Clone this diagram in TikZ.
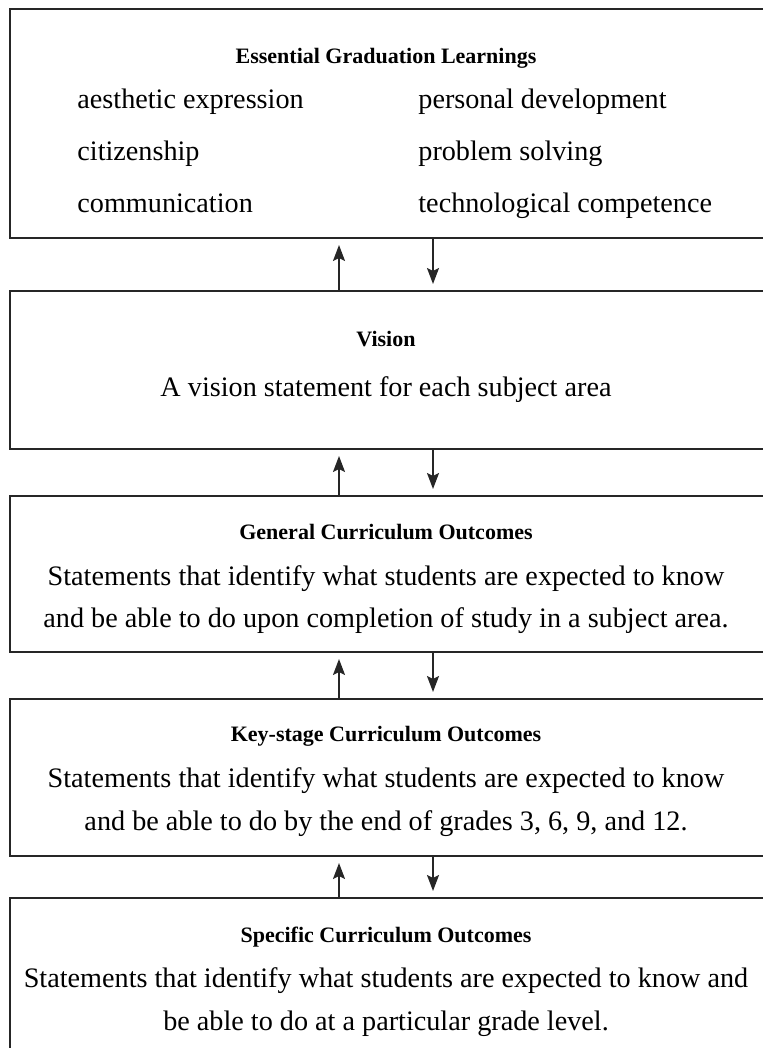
\documentclass[tikz,border=0pt]{standalone}
\usepackage{fontspec}
\setmainfont{Liberation Serif}
\usetikzlibrary{arrows.meta}

\begin{document}
\begin{tikzpicture}[x=0.5pt, y=-0.5pt]
    \tikzstyle{box} = [draw=black!85, line width=1pt, minimum width=382pt, inner sep=0pt]
    \tikzstyle{heading} = [anchor=base, font=\fontsize{11}{14}\selectfont\bfseries]
    \tikzstyle{body} = [anchor=base, font=\fontsize{14.1}{21.5}\selectfont]
    \tikzstyle{item} = [anchor=base west, inner xsep=0pt, font=\fontsize{14.1}{21.5}\selectfont]
    \tikzstyle{flow} = [-{Stealth[length=8pt, width=6pt, inset=1.5pt]}, line width=1pt, draw=black!85]
    \useasboundingbox (0,0) rectangle (762,1048);
    % the five boxes
    \node[box, minimum height=114.5pt] (egl) at (392,123.5) {};
    \node[box, minimum height=79pt] (vis) at (392,370) {};
    \node[box, minimum height=78pt] (gco) at (392,574) {};
    \node[box, minimum height=78.5pt] (kco) at (392,777.5) {};
    \node[box, minimum height=77pt] (sco) at (392,975) {};
    % essential graduation learnings
    \node[heading] (egltitle) at (386,64) {Essential Graduation Learnings};
    \node[item] (aes) at (77,109) {aesthetic expression};
    \node[item] (cit) at (77,161) {citizenship};
    \node[item] (com) at (77,213) {communication};
    \node[item] (per) at (418,109) {personal development};
    \node[item] (pro) at (418,161) {problem solving};
    \node[item] (tec) at (418,213) {technological competence};
    % vision
    \node[heading] (vistitle) at (386,346) {Vision};
    \node[body] (vistext) at (386,396) {A vision statement for each subject area};
    % general
    \node[heading] (gcotitle) at (386,539) {General Curriculum Outcomes};
    \node[body] (gcoa) at (386,585) {Statements that identify what students are expected to know};
    \node[body] (gcob) at (386,627) {and be able to do upon completion of study in a subject area.};
    % key-stage
    \node[heading] (kcotitle) at (386,741) {Key-stage Curriculum Outcomes};
    \node[body] (kcoa) at (386,787) {Statements that identify what students are expected to know};
    \node[body] (kcob) at (386,830) {and be able to do by the end of grades 3, 6, 9, and 12.};
    % specific
    \node[heading] (scotitle) at (386,942) {Specific Curriculum Outcomes};
    \node[body] (scoa) at (386,987) {Statements that identify what students are expected to know and};
    \node[body] (scob) at (386,1030) {be able to do at a particular grade level.};
    % arrows between the boxes
    \coordinate (upx) at (339,0);
    \coordinate (dnx) at (433,0);
    \draw[flow, shorten >=3pt] (vis.north -| upx) -- (egl.south -| upx);
    \draw[flow, shorten >=3pt] (egl.south -| dnx) -- (vis.north -| dnx);
    \draw[flow, shorten >=3pt] (gco.north -| upx) -- (vis.south -| upx);
    \draw[flow, shorten >=3pt] (vis.south -| dnx) -- (gco.north -| dnx);
    \draw[flow, shorten >=3pt] (kco.north -| upx) -- (gco.south -| upx);
    \draw[flow, shorten >=3pt] (gco.south -| dnx) -- (kco.north -| dnx);
    \draw[flow, shorten >=3pt] (sco.north -| upx) -- (kco.south -| upx);
    \draw[flow, shorten >=3pt] (kco.south -| dnx) -- (sco.north -| dnx);
\end{tikzpicture}
\end{document}
